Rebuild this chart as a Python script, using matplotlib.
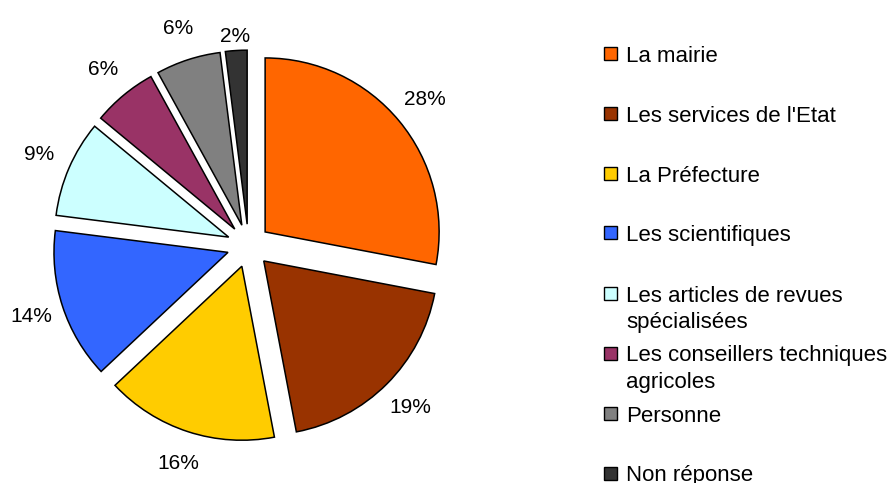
import matplotlib
matplotlib.use("Agg")
import numpy as np
import matplotlib.pyplot as plt
import matplotlib.patches as patches

plt.rcParams['font.family'] = ['Liberation Sans', 'DejaVu Sans']

categories = ["La mairie", "Les services de l'Etat", "La Préfecture", "Les scientifiques",
              "Les articles de revues\nspécialisées", "Les conseillers techniques\nagricoles",
              "Personne", "Non réponse"]
values = [28, 19, 16, 14, 9, 6, 6, 2]
colors = ["#FF6600", "#993300", "#FFCC00", "#3366FF", "#CCFFFF", "#993366", "#808080", "#333333"]

W, H, dpi = 893, 483, 100
fig = plt.figure(figsize=(W / dpi, H / dpi), dpi=dpi)

# pie axes spans the whole figure, 1 data unit = radius in pixels
R = 174.0
cx, cy = 248.5, H - 245.7
ax = fig.add_axes([0, 0, 1, 1])

wedges, texts, autotexts = ax.pie(values, colors=colors, startangle=90, counterclock=False,
                                  explode=[0.124] * len(values), radius=1.0,
                                  autopct="%1.0f%%", pctdistance=1.19,
                                  textprops=dict(fontsize=15, color="black"),
                                  wedgeprops=dict(edgecolor="black", linewidth=1.1))
ax.set_xlim(-cx / R, (W - cx) / R)
ax.set_ylim(-cy / R, (H - cy) / R)
ax.set_aspect("auto")
ax.axis("off")

# the tiny last slice keeps its label closer in
w = wedges[-1]
mid = np.deg2rad((w.theta1 + w.theta2) / 2)
ox, oy = w.center
autotexts[-1].set_position((ox + 1.08 * np.cos(mid), oy + 1.08 * np.sin(mid)))

# legend drawn by hand: one entry every 60 px, long names wrap downward
for i, (lab, col) in enumerate(zip(categories, colors)):
    yc = 52.5 + 60 * i
    fig.patches.append(patches.Rectangle((604 / W, 1 - (yc + 7) / H), 13 / W, 13 / H,
                                         transform=fig.transFigure, facecolor=col,
                                         edgecolor="black", linewidth=1.0))
    fig.text(626 / W, 1 - (yc - 7) / H, lab, fontsize=16, va="top", ha="left",
             linespacing=1.37)

fig.savefig("out.png", dpi=dpi)
